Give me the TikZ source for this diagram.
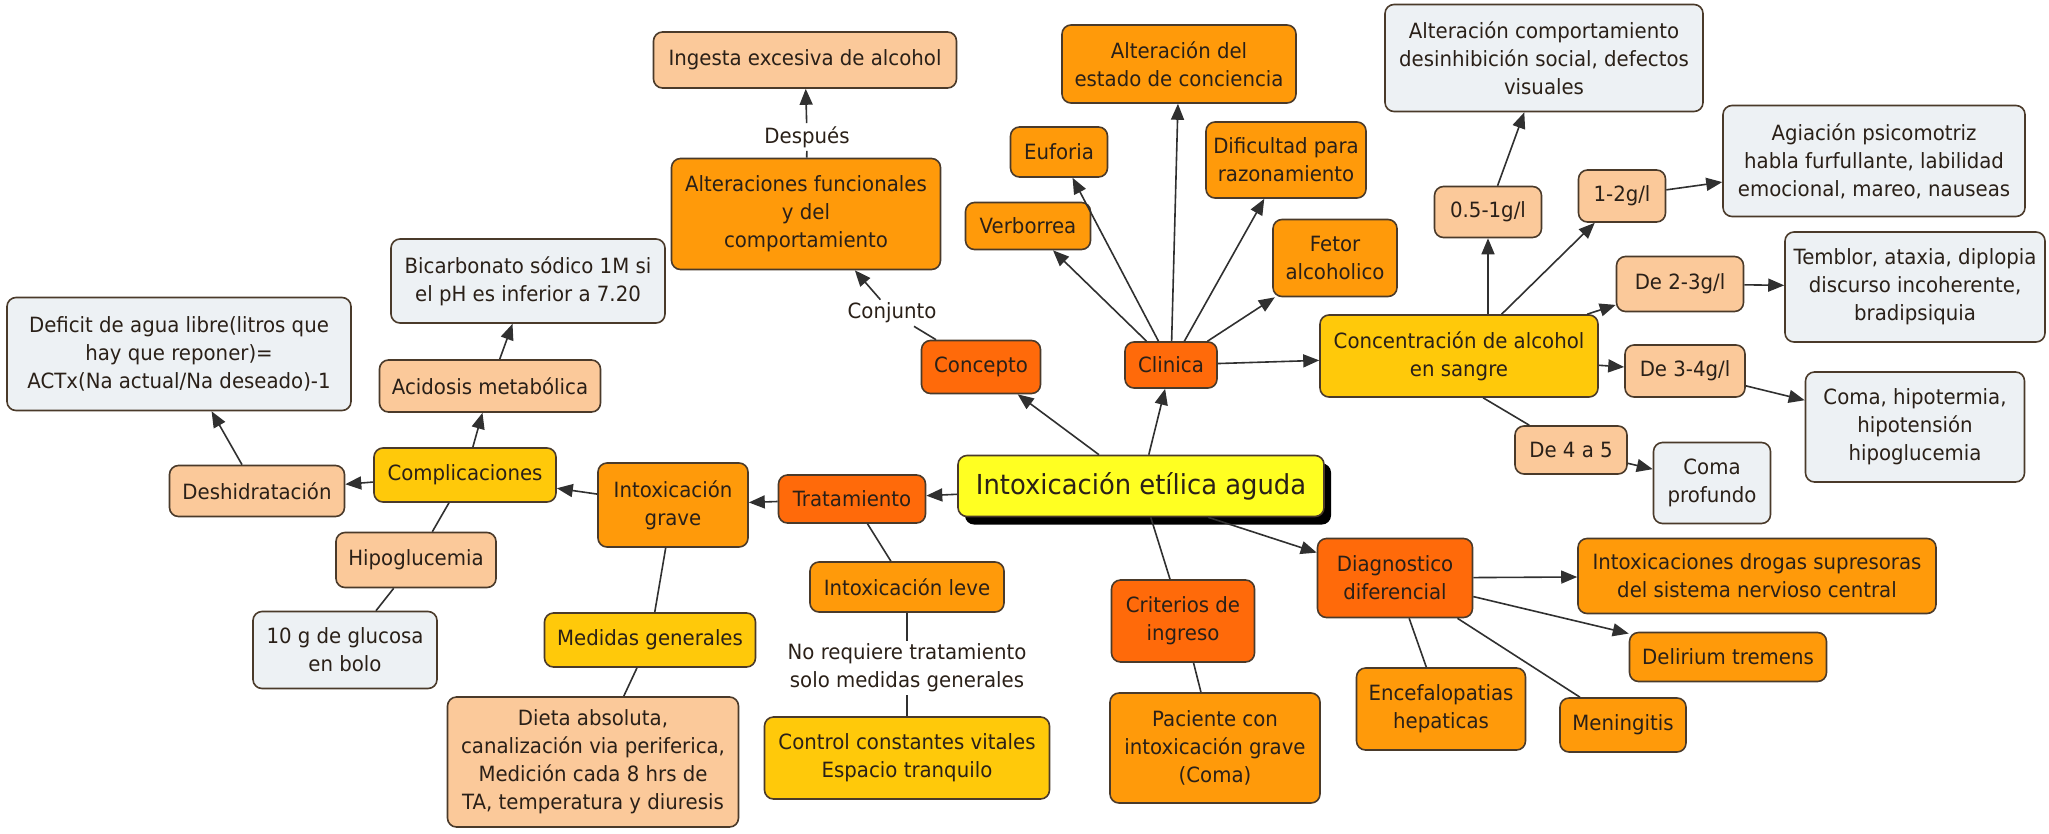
\documentclass[tikz,border=0pt]{standalone}
\usepackage{fontspec}
\setmainfont[FakeStretch=0.94]{DejaVu Sans}
\usetikzlibrary{arrows.meta,shadows}
\definecolor{peach}{HTML}{FBC99A}
\definecolor{orng}{HTML}{FF9A0A}
\definecolor{dorng}{HTML}{FF6A0A}
\definecolor{gold}{HTML}{FFC90A}
\definecolor{greyb}{HTML}{EDF1F4}
\definecolor{yel}{HTML}{FFFF22}
\definecolor{bord}{HTML}{4A3A2A}
\definecolor{txt}{HTML}{2A2018}
\definecolor{lin}{HTML}{303030}
\begin{document}
\begin{tikzpicture}[x=1pt,y=-1pt,
 box/.style={draw=bord,line width=1.6pt,rounded corners=9pt,align=center,inner sep=2pt,text=txt,font=\fontsize{21}{28}\selectfont},
 sz/.style 2 args={minimum width=#1pt,minimum height=#2pt},
 pch/.style={box,fill=peach},
 org/.style={box,fill=orng},
 dor/.style={box,fill=dorng},
 gld/.style={box,fill=gold},
 gry/.style={box,fill=greyb},
 cen/.style={box,fill=yel,font=\fontsize{27.5}{34}\selectfont,drop shadow={shadow xshift=7pt,shadow yshift=-8pt,fill=black,opacity=1}},
 conn/.style={draw=lin,line width=1.6pt},
 arr/.style={conn,-{Triangle[length=16pt,width=13pt]}},
 lbl/.style={inner sep=3pt,text=txt,align=center,font=\fontsize{21}{28}\selectfont}]
\useasboundingbox (0,0) rectangle (2049,833);
\fill[white] (0,0) rectangle (2049,833);

% peach
\node[pch,sz={303}{56}] (ingesta) at (805,60) {Ingesta excesiva de alcohol};
\node[pch,sz={221}{52}] (acidosis) at (490,386) {Acidosis metabólica};
\node[pch,sz={175}{51}] (deshid) at (257,491) {Deshidratación};
\node[pch,sz={160}{55}] (hipoglu) at (416,560) {Hipoglucemia};
\node[pch,sz={291}{130}] (dieta) at (593,762) {Dieta absoluta,\\canalización via periferica,\\Medición cada 8 hrs de\\TA, temperatura y diuresis};
\node[pch,sz={107}{51}] (c05) at (1488,212) {0.5-1g/l};
\node[pch,sz={87}{52}] (c12) at (1622,196) {1-2g/l};
\node[pch,sz={127}{55}] (c23) at (1680,284) {De 2-3g/l};
\node[pch,sz={120}{52}] (c34) at (1685,371) {De 3-4g/l};
\node[pch,sz={112}{48}] (c45) at (1571,450) {De 4 a 5};

% grey
\node[gry,sz={274}{84}] (bicarb) at (528,281) {Bicarbonato sódico 1M si\\el pH es inferior a 7.20};
\node[gry,sz={344}{113}] (deficit) at (179,354) {Deficit de agua libre(litros que\\hay que reponer)=\\ACTx(Na actual/Na deseado)-1};
\node[gry,sz={184}{77}] (glucosa) at (345,650) {10 g de glucosa\\en bolo};
\node[gry,sz={318}{107}] (altcomp) at (1544,58) {Alteración comportamiento\\desinhibición social, defectos\\visuales};
\node[gry,sz={302}{111}] (agiacion) at (1874,161) {Agiación psicomotriz\\habla furfullante, labilidad\\emocional, mareo, nauseas};
\node[gry,sz={260}{110}] (temblor) at (1915,287) {Temblor, ataxia, diplopia\\discurso incoherente,\\bradipsiquia};
\node[gry,sz={219}{110}] (comahip) at (1915,427) {Coma, hipotermia,\\hipotensión\\hipoglucemia};
\node[gry,sz={117}{81}] (comaprof) at (1712,483) {Coma\\profundo};

% orange
\node[org,sz={269}{111}] (altfunc) at (806,214) {Alteraciones funcionales\\y del\\comportamiento};
\node[org,sz={234}{78}] (altestado) at (1179,64) {Alteración del\\estado de conciencia};
\node[org,sz={97}{50}] (euforia) at (1059,152) {Euforia};
\node[org,sz={125}{47}] (verborrea) at (1028,226) {Verborrea};
\node[org,sz={160}{76}] (dificultad) at (1286,160) {Dificultad para\\razonamiento};
\node[org,sz={124}{77}] (fetor) at (1335,258) {Fetor\\alcoholico};
\node[org,sz={150}{84}] (grave) at (673,505) {Intoxicación\\grave};
\node[org,sz={194}{50}] (leve) at (907,587) {Intoxicación leve};
\node[org,sz={210}{110}] (paciente) at (1215,748) {Paciente con\\intoxicación grave\\(Coma)};
\node[org,sz={358}{75}] (drogas) at (1757,576) {Intoxicaciones drogas supresoras\\del sistema nervioso central};
\node[org,sz={197}{49}] (delirium) at (1728,657) {Delirium tremens};
\node[org,sz={169}{82}] (encef) at (1441,709) {Encefalopatias\\hepaticas};
\node[org,sz={126}{54}] (mening) at (1623,725) {Meningitis};

% dark orange
\node[dor,sz={119}{53}] (concepto) at (981,367) {Concepto};
\node[dor,sz={92}{46}] (clinica) at (1171,365) {Clinica};
\node[dor,sz={147}{48}] (trat) at (852,499) {Tratamiento};
\node[dor,sz={143}{82}] (criterios) at (1183,621) {Criterios de\\ingreso};
\node[dor,sz={155}{79}] (diag) at (1395,578) {Diagnostico\\diferencial};

% gold
\node[gld,sz={182}{54}] (complic) at (465,475) {Complicaciones};
\node[gld,sz={278}{82}] (conc) at (1459,356) {Concentración de alcohol\\en sangre};
\node[gld,sz={211}{54}] (medidas) at (650,640) {Medidas generales};
\node[gld,sz={285}{82}] (control) at (907,758) {Control constantes vitales\\Espacio tranquilo};

% central
\node[cen,sz={366}{61}] (central) at (1141,486) {Intoxicación etílica aguda};

% labels
\node[lbl] (despues) at (807,137) {Después};
\node[lbl] (conjunto) at (892,313) {Conjunto};
\node[lbl] (noreq) at (907,668) {No requiere tratamiento\\solo medidas generales};

% connectors
\draw[arr] (central) -- (concepto);
\draw[arr] (central) -- (clinica);
\draw[arr] (central) -- (trat);
\draw[arr] (central.-25) -- (diag);
\draw[conn] (central) -- (criterios);
\draw[conn] (concepto) -- (conjunto);
\draw[arr] (conjunto) -- (altfunc);
\draw[conn] (altfunc) -- (despues);
\draw[arr] (despues) -- (ingesta);
\draw[arr] (clinica) -- (altestado);
\draw[arr] (clinica) -- (euforia);
\draw[arr] (clinica) -- (verborrea);
\draw[arr] (clinica) -- (dificultad);
\draw[arr] (clinica) -- (fetor);
\draw[arr] (clinica) -- (conc);
\draw[arr] (conc.north -| c05) -- (c05);
\draw[arr] (conc) -- (c12);
\draw[arr] (conc) -- (c23);
\draw[arr] (conc) -- (c34);
\draw[conn] (conc.-60) -- (c45);
\draw[arr] (c05) -- (altcomp);
\draw[arr] (c12) -- (agiacion);
\draw[arr] (c23) -- (temblor);
\draw[arr] (c34) -- (comahip);
\draw[arr] (c45) -- (comaprof);
\draw[arr] (diag) -- (drogas);
\draw[arr] (diag) -- (delirium);
\draw[conn] (diag) -- (encef);
\draw[conn] (diag) -- (mening);
\draw[conn] (criterios) -- (paciente);
\draw[arr] (trat) -- (grave);
\draw[conn] (trat) -- (leve);
\draw[conn] (leve) -- (noreq);
\draw[conn] (noreq) -- (control);
\draw[arr] (grave) -- (complic);
\draw[conn] (grave) -- (medidas);
\draw[conn] (medidas) -- (dieta);
\draw[arr] (complic) -- (deshid);
\draw[arr] (complic) -- (acidosis);
\draw[conn] (complic) -- (hipoglu);
\draw[conn] (hipoglu) -- (glucosa);
\draw[arr] (deshid) -- (deficit);
\draw[arr] (acidosis) -- (bicarb);
\end{tikzpicture}
\end{document}
